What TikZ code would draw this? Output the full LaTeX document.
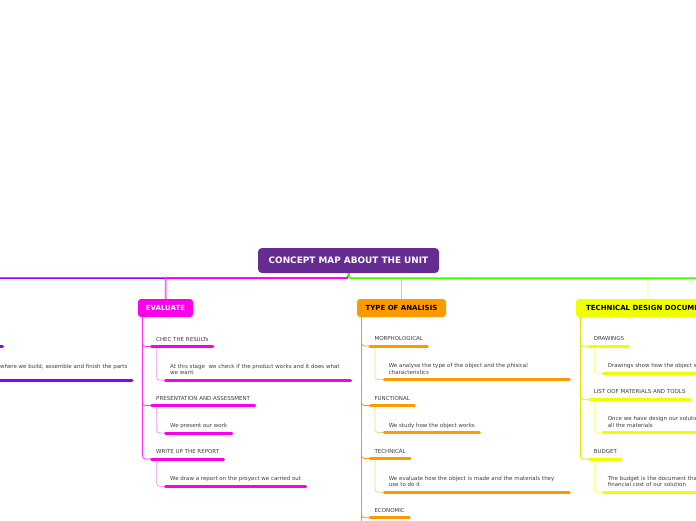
\documentclass[tikz,border=0pt]{standalone}
\usepackage{fontspec}
\setmainfont{DejaVu Sans}
\usetikzlibrary{positioning}

\definecolor{rootpurple}{RGB}{102,44,145}
\definecolor{mapviolet}{RGB}{140,0,255}
\definecolor{mapmagenta}{RGB}{250,0,235}
\definecolor{maporange}{RGB}{255,153,0}
\definecolor{mapyellow}{RGB}{240,255,0}
\definecolor{mapgreen}{RGB}{60,255,0}
\definecolor{maptext}{RGB}{60,60,60}

\begin{document}
\begin{tikzpicture}[
  x=1pt, y=-1pt,
  root/.style={
    fill=rootpurple, rounded corners=4pt,
    minimum width=181pt, minimum height=25pt,
    inner sep=0pt, outer sep=0pt,
    text=white, font=\fontsize{8.9}{10}\selectfont\bfseries
  },
  branch/.style={
    rounded corners=3pt, minimum height=18pt,
    inner xsep=7pt, inner ysep=0pt, outer sep=0pt,
    font=\fontsize{7}{8}\selectfont\bfseries
  },
  topic/.style={
    anchor=south west,
    inner xsep=4.5pt,
    inner ysep=5.5pt, % gap between text baseline and the bar
    text depth=0pt, outer sep=0pt,
    text=maptext, font=\fontsize{5.5}{6.3}\selectfont
  },
  wide/.style={topic, text width=176pt, align=left, text depth=6.3pt},
  link/.style={line width=1.5pt, rounded corners=2pt},
  drop/.style={line width=0.8pt},
  stem/.style={line width=0.8pt, rounded corners=3pt},
  bar/.style={line width=3pt, line cap=round}
]
\path[use as bounding box, clip] (0,0) rectangle (696,520);

% --- Root ---
\node[root] (root) at (348.5,260.5) {CONCEPT MAP ABOUT THE UNIT};

% --- Branches ---
\node[branch, fill=mapmagenta, text=white, minimum width=55pt] (eval) at (165.5,308) {EVALUATE};
\node[branch, fill=maporange, minimum width=89pt] (anal) at (401.5,308) {TYPE OF ANALISIS};
\node[branch, fill=mapyellow, minimum width=144pt, anchor=west] (tdd) at (576,308) {TECHNICAL DESIGN DOCUMENT};

\coordinate (violetend) at (-20,278);
\coordinate (greenend) at (720,278);

\draw[link, mapviolet] (root.south) |- (violetend);
\draw[link, mapmagenta] (root.south) -- ++(0,5) -| (eval.north);
\draw[drop, mapmagenta!60] (eval.north) -- ++(0,-21);
\draw[link, maporange!60, line width=0.8pt] (root.south) ++(0,5) -| (anal.north);
\draw[link, mapyellow!70, line width=0.8pt] (root.south) ++(0,5) -| (tdd.north);
\draw[link, mapgreen] (root.south) |- (greenend);

% --- Violet branch (mostly off the page) ---
\node[topic, anchor=south east, minimum width=30pt] (vi1) at (2.5,346.5) {};
\node[wide, anchor=south east, align=right, text depth=6.3pt] (vi1a) at (132,380)
  {where we build, assemble and finish the parts};
\foreach \n in {vi1,vi1a} {
  \draw[bar, mapviolet] (\n.south west) -- (\n.south east);
}

% --- Evaluate ---
\node[topic] (ev1) at (151.7,346.5) {CHEC THE RESULTs};
\node[wide] (ev1a) at (165.7,380) {At this stage~ we check if the product works and it does what\\we want};
\node[topic] (ev2) at (151.7,405.5) {PRESENTATION AND ASSESSMENT};
\node[topic] (ev2a) at (165.7,433) {We present our work};
\node[topic] (ev3) at (151.7,459) {WRITE UP THE REPORT};
\node[topic] (ev3a) at (165.7,486.3) {We draw a report on the proyect we carried out};

\foreach \n in {ev1,ev2,ev3} {
  \draw[stem, mapmagenta!80] ([xshift=4.5pt]eval.south west) |- (\n.south west);
  \draw[stem, mapmagenta!45] ([xshift=5pt]\n.south west) |- (\n a.south west);
}
\foreach \n in {ev1,ev1a,ev2,ev2a,ev3,ev3a} {
  \draw[bar, mapmagenta] (\n.south west) -- (\n.south east);
}

% --- Type of analisis ---
\node[topic] (an1) at (370,346) {MORPHOLOGICAL};
\node[wide] (an1a) at (384.3,379.5) {We analyse the type of the object and the phisical\\characteristics};
\node[topic] (an2) at (370,405.5) {FUNCTIONAL};
\node[topic] (an2a) at (384.3,432.5) {We study how the object works};
\node[topic] (an3) at (370,458.5) {TECHNICAL};
\node[wide] (an3a) at (384.3,492.3) {We evaluate how the object is made and the materials they\\use to do it};
\node[topic] (an4) at (370,517.7) {ECONOMIC};

\path ([xshift=4.5pt]anal.south west) ++(0,230) coordinate (anbottom);
\draw[stem, maporange] ([xshift=4.5pt]anal.south west) -- (anbottom);
\foreach \n in {an1,an2,an3,an4} {
  \draw[stem, maporange] ([xshift=4.5pt]anal.south west) |- (\n.south west);
}
\foreach \n in {an1,an2,an3} {
  \draw[stem, maporange!45] ([xshift=5pt]\n.south west) |- (\n a.south west);
}
\foreach \n in {an1,an1a,an2,an2a,an3,an3a,an4} {
  \draw[bar, maporange] (\n.south west) -- (\n.south east);
}

% --- Technical design document ---
\node[topic] (td1) at (589.3,346.3) {DRAWINGS};
\node[topic] (td1a) at (603.3,373.3) {Drawings show how the object will look};
\node[topic] (td2) at (589.3,399.3) {LIST OOF MATERIALS AND TOOLS};
\node[wide] (td2a) at (603.3,432.7) {Once we have design our solution we make a list of\\all the materials};
\node[topic] (td3) at (589.3,459) {BUDGET};
\node[wide] (td3a) at (603.3,492.3) {The budget is the document that shows the\\financial cost of our solution};

\foreach \n in {td1,td2,td3} {
  \draw[stem, mapyellow!90!black] ([xshift=4.5pt]tdd.south west) |- (\n.south west);
  \draw[stem, mapyellow!60] ([xshift=5pt]\n.south west) |- (\n a.south west);
}
\foreach \n in {td1,td1a,td2,td2a,td3,td3a} {
  \draw[bar, mapyellow] (\n.south west) -- (\n.south east);
}

\end{tikzpicture}
\end{document}
